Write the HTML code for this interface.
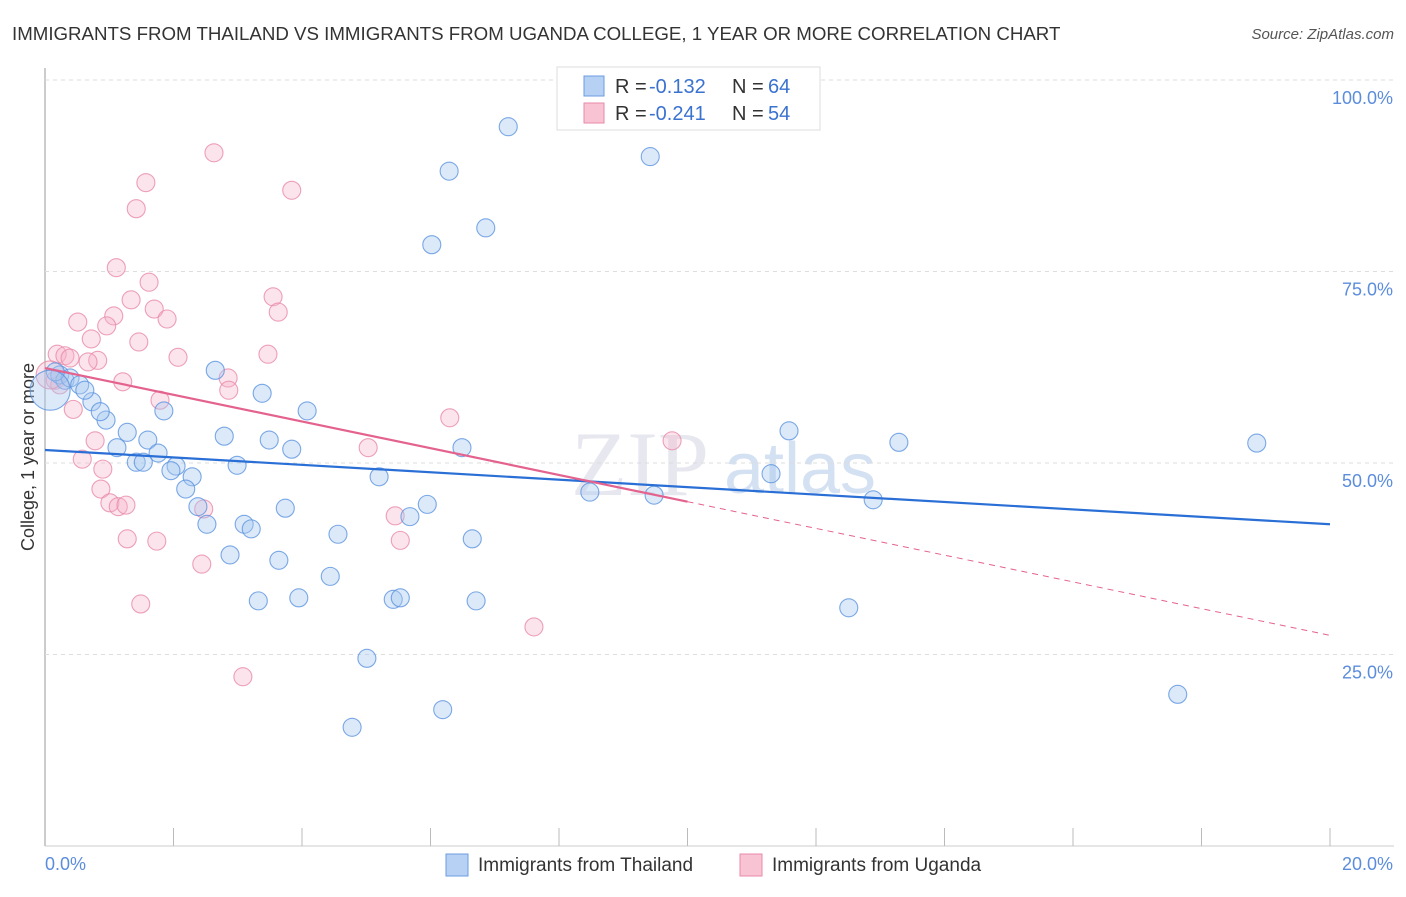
<!DOCTYPE html>
<html><head><meta charset="utf-8"><style>
body{margin:0;background:#fff;font-family:"Liberation Sans",sans-serif;}
#wrap{position:relative;width:1406px;height:892px;}
</style></head><body>
<div id="wrap">
<svg id="svg" width="1406" height="892" xmlns="http://www.w3.org/2000/svg">
<text x="12" y="40" font-size="18.7" fill="#333">IMMIGRANTS FROM THAILAND VS IMMIGRANTS FROM UGANDA COLLEGE, 1 YEAR OR MORE CORRELATION CHART</text>
<text x="1394" y="39" font-size="15" fill="#555" font-style="italic" text-anchor="end">Source: ZipAtlas.com</text>
<text x="640" y="495" font-size="92" fill="#ccd" opacity="0.45" font-family="Liberation Serif" text-anchor="middle">ZIP</text>
<text x="800" y="493" font-size="72" fill="#a9c4e6" opacity="0.5" text-anchor="middle">atlas</text>
<text transform="translate(34,457) rotate(-90)" font-size="18" fill="#333" text-anchor="middle">College, 1 year or more</text>
<g id="grid"></g><g id="pts"></g><g id="lines"></g>
<g>
<rect x="557" y="67" width="263" height="63" fill="#fff" stroke="#ddd"/>
<rect x="584" y="76" width="20" height="20" fill="#b7d1f5" stroke="#6b9be0"/>
<rect x="584" y="103" width="20" height="20" fill="#f8c3d3" stroke="#e88aaa"/>
<text x="615" y="93" font-size="20" fill="#333">R =</text>
<text x="649" y="93" font-size="20" fill="#3a72d0">-0.132</text>
<text x="732" y="93" font-size="20" fill="#333">N =</text>
<text x="768" y="93" font-size="20" fill="#3a72d0">64</text>
<text x="615" y="120" font-size="20" fill="#333">R =</text>
<text x="649" y="120" font-size="20" fill="#3a72d0">-0.241</text>
<text x="732" y="120" font-size="20" fill="#333">N =</text>
<text x="768" y="120" font-size="20" fill="#3a72d0">54</text>
</g>
<g>
<rect x="446" y="854" width="22" height="22" fill="#b7d1f5" stroke="#6b9be0"/>
<text x="478" y="871" font-size="19" fill="#333">Immigrants from Thailand</text>
<rect x="740" y="854" width="22" height="22" fill="#f8c3d3" stroke="#e88aaa"/>
<text x="772" y="871" font-size="19" fill="#333">Immigrants from Uganda</text>
</g>
</svg>
</div>
<script>
const xTicks=[0,2,4,6,8,10,12,14,16,18,20];
const yTicks=[25,50,75,100];
const yTickLabels=["25.0%","50.0%","75.0%","100.0%"];
const blueX=[7.21,9.42,6.29,6.86,6.02,2.65,3.38,1.85,4.08,0.73,0.95,0.86,1.28,1.60,2.79,3.49,3.84,6.49,11.58,13.29,18.86,1.12,1.76,1.42,1.53,2.04,1.96,2.29,2.99,5.20,11.30,2.19,8.48,9.48,12.89,2.38,5.95,3.74,5.68,2.52,3.10,3.21,4.56,6.65,2.88,3.64,4.44,3.32,3.95,5.42,5.53,6.71,12.51,5.01,17.63,6.19,4.78,0.23,0.31,0.39,0.16,0.54,0.62,0.08];
const blueY=[93.9,90.0,88.1,80.7,78.5,62.1,59.1,56.8,56.8,58.0,55.6,56.7,54.0,53.0,53.5,53.0,51.8,52.0,54.2,52.7,52.6,52.0,51.3,50.1,50.1,49.6,49.0,48.2,49.7,48.2,48.6,46.6,46.2,45.8,45.2,44.3,44.6,44.1,43.0,42.0,42.0,41.4,40.7,40.1,38.0,37.3,35.2,32.0,32.4,32.2,32.4,32.0,31.1,24.5,19.8,17.8,15.5,61.5,60.8,61.1,61.9,60.2,59.5,59.5];
const pinkX=[2.63,1.57,3.84,1.42,1.11,1.62,1.34,3.55,1.70,3.63,1.07,0.51,1.90,0.96,0.72,1.46,3.47,0.19,0.31,0.39,0.82,0.67,2.07,1.21,2.85,2.86,1.79,6.30,0.44,0.78,5.03,9.76,0.58,0.90,0.87,1.01,1.14,1.26,2.47,5.45,1.28,1.74,5.53,2.44,1.49,7.61,3.08,0.16,0.23,0.08];
const pinkY=[90.5,86.6,85.6,83.2,75.5,73.6,71.3,71.7,70.1,69.7,69.2,68.4,68.8,67.9,66.2,65.8,64.2,64.2,64.0,63.7,63.4,63.2,63.8,60.6,61.1,59.5,58.2,55.9,57.0,52.9,52.0,52.9,50.5,49.2,46.6,44.8,44.3,44.5,44.0,43.1,40.1,39.8,39.9,36.8,31.6,28.6,22.1,60.8,60.2,61.5];
const blueTrend=[51.7,42.0];
const pinkTrend=[62.4,27.5];
const pinkSolidEnd=10;
const NS="http://www.w3.org/2000/svg";
const X=v=>45+v*(1285/20), Y=v=>846-v*7.66;
function mk(t,a,p){const e=document.createElementNS(NS,t);for(const k in a)e.setAttribute(k,a[k]);p.appendChild(e);return e;}
const grid=document.getElementById('grid');
const ax=mk('line',{x1:45,y1:68,x2:45,y2:846,stroke:'#bbb','stroke-width':1.5},grid);


const bx=mk('line',{x1:45,y1:846,x2:1394,y2:846,stroke:'#ccc'},grid);


yTicks.forEach((t,i)=>{
 const g=mk('line',{x1:45,x2:1394,y1:Y(t),y2:Y(t),stroke:'#ddd','stroke-dasharray':'4,4'},grid);
 
 
 const l=mk('text',{x:1393,y:Y(t)+24,'font-size':18,fill:'#5b8ddc','text-anchor':'end'},grid);
 l.textContent=yTickLabels[i];
 
 
});
xTicks.forEach(t=>{
 const g=mk('line',{x1:X(t),x2:X(t),y1:828,y2:846,stroke:'#bbb'},grid);
 
 
});
const xl0=mk('text',{x:45,y:870,'font-size':18,fill:'#5b8ddc'},grid);xl0.textContent='0.0%';


const xl1=mk('text',{x:1393,y:870,'font-size':18,fill:'#5b8ddc','text-anchor':'end'},grid);xl1.textContent='20.0%';


const pts=document.getElementById('pts');
pinkX.forEach((x,i)=>{
 const c=mk('circle',{cx:X(x),cy:Y(pinkY[i]),r:i==pinkX.length-1?14:9,fill:'#f5b3c8','fill-opacity':0.35,stroke:'#e889a8','stroke-opacity':0.8,'stroke-width':1.1},pts);
 
 
});
blueX.forEach((x,i)=>{
 const c=mk('circle',{cx:X(x),cy:Y(blueY[i]),r:i==blueX.length-1?20:9,fill:'#a8c8f0','fill-opacity':0.4,stroke:'#5b93e0','stroke-opacity':0.8,'stroke-width':1.1},pts);
 
 
});
const L=document.getElementById('lines');
const bl=mk('line',{x1:X(0),y1:Y(blueTrend[0]),x2:X(20),y2:Y(blueTrend[1]),stroke:'#2a6fd6','stroke-width':2.2},L);


const pm=pinkTrend[0]+(pinkTrend[1]-pinkTrend[0])*pinkSolidEnd/20;
const pl=mk('line',{x1:X(0),y1:Y(pinkTrend[0]),x2:X(pinkSolidEnd),y2:Y(pm),stroke:'#e4628e','stroke-width':2.2},L);


const pd=mk('line',{x1:X(pinkSolidEnd),y1:Y(pm),x2:X(20),y2:Y(pinkTrend[1]),stroke:'#e4628e','stroke-width':1,'stroke-dasharray':'6,5'},L);


</script>
</body></html>
